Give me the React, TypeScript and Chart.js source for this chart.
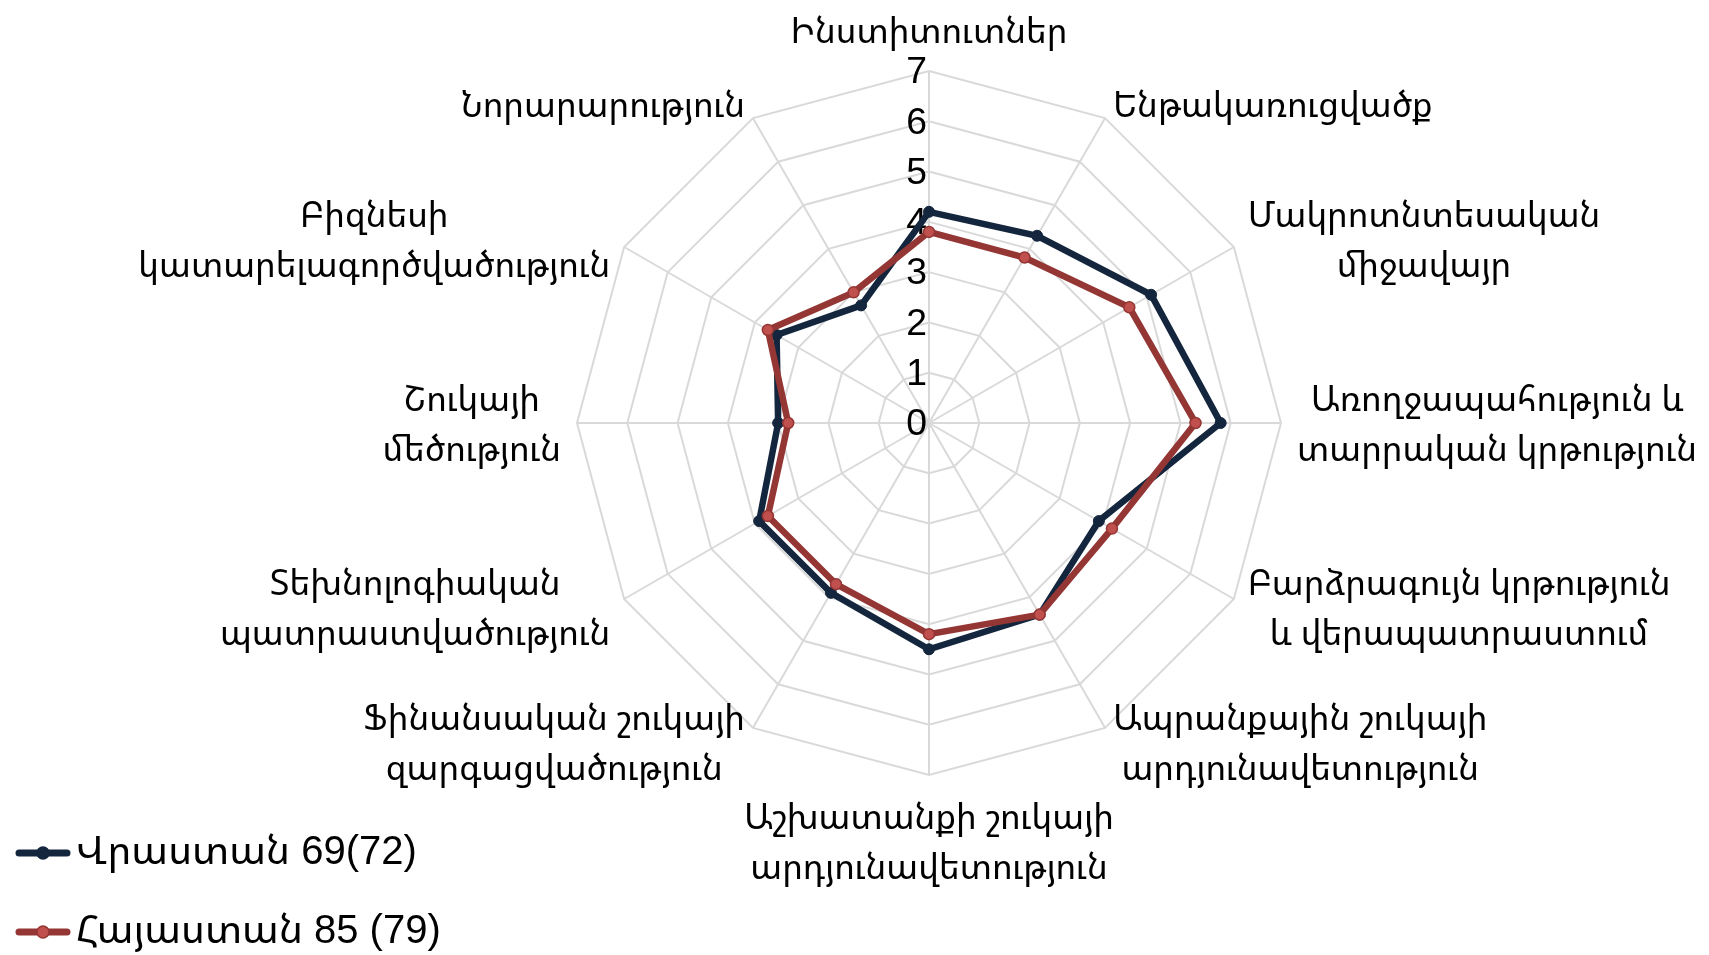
import React, { useEffect, useRef } from "react";
import { Chart, registerables } from "chart.js";

Chart.register(...registerables);

const categories: (string | string[])[] = [
  "Ինստիտուտներ",
  "Ենթակառուցվածք",
  ["Մակրոտնտեսական", "միջավայր"],
  ["Առողջապահություն և", "տարրական կրթություն"],
  ["Բարձրագույն կրթություն", "և վերապատրաստում"],
  ["Ապրանքային շուկայի", "արդյունավետություն"],
  ["Աշխատանքի շուկայի", "արդյունավետություն"],
  ["Ֆինանսական շուկայի", "զարգացվածություն"],
  ["Տեխնոլոգիական", "պատրաստվածություն"],
  ["Շուկայի", "մեծություն"],
  ["Բիզնեսի", "կատարելագործվածություն"],
  "Նորարարություն",
];

const georgiaLabel = "Վրաստան 69(72)";
const georgiaValues = [4.2, 4.3, 5.1, 5.8, 3.9, 4.4, 4.5, 3.9, 3.9, 3.0, 3.5, 2.7];

const armeniaLabel = "Հայաստան 85 (79)";
const armeniaValues = [3.8, 3.8, 4.6, 5.3, 4.2, 4.4, 4.2, 3.7, 3.7, 2.8, 3.7, 3.0];

const scaleMin = 0;
const scaleMax = 7;
const scaleStep = 1;

const FONT = '"Liberation Sans", "Noto Sans Armenian", sans-serif';
const ARM_FONT = '"Noto Sans Armenian", "Liberation Sans", sans-serif';
const NAVY = "#14263e";
const RED = "#943634";
const RED_LIGHT = "#c0504d";
const GRID = "#d9d9d9";

const LABEL_SIZE = 34.67;
const TICK_SIZE = 37.33;
const LEGEND_SIZE = 40;
const LABEL_LINE = 50;
const LABEL_GAP = 16;

function makeLegendMarker(line: string, dot: string, dotBorder: string): HTMLCanvasElement {
  const c = document.createElement("canvas");
  c.width = 65;
  c.height = 20;
  const g = c.getContext("2d")!;
  g.strokeStyle = line;
  g.lineWidth = 7;
  g.lineCap = "round";
  g.beginPath();
  g.moveTo(4, 10);
  g.lineTo(52, 10);
  g.stroke();
  g.beginPath();
  g.arc(28, 10, 6, 0, Math.PI * 2);
  g.fillStyle = dot;
  g.fill();
  g.lineWidth = 1.5;
  g.strokeStyle = dotBorder;
  g.stroke();
  return c;
}

const pointLabelPlugin = {
  id: "armPointLabels",
  afterDatasetsDraw(chart: any) {
    const scale = chart.scales.r;
    const ctx = chart.ctx;
    ctx.save();
    ctx.font = `${LABEL_SIZE}px ${ARM_FONT}`;
    ctx.fillStyle = "#000";
    ctx.textBaseline = "middle";
    ctx.textAlign = "center";
    (chart.data.labels as (string | string[])[]).forEach((lab, i) => {
      const lines = Array.isArray(lab) ? lab : [lab];
      const pos = scale.getPointPosition(i, scale.drawingArea + LABEL_GAP);
      const deg = Math.round((scale.getIndexAngle(i) * 180) / Math.PI) % 360;
      const bw = Math.max(...lines.map((l) => ctx.measureText(l).width));
      const bh = lines.length * LABEL_LINE;
      let cx: number;
      let top: number;
      if (deg === 0) {
        cx = pos.x;
        top = pos.y - bh;
      } else if (deg === 180) {
        cx = pos.x;
        top = pos.y;
      } else if (deg < 180) {
        cx = pos.x + bw / 2;
        top = pos.y - bh / 2;
      } else {
        cx = pos.x - bw / 2;
        top = pos.y - bh / 2;
      }
      lines.forEach((l, k) => ctx.fillText(l, cx, top + LABEL_LINE * (k + 0.5) + 3));
    });
    ctx.restore();
  },
};

const tickLabelPlugin = {
  id: "armTickLabels",
  beforeDatasetsDraw(chart: any) {
    const scale = chart.scales.r;
    const ctx = chart.ctx;
    ctx.save();
    ctx.font = `${TICK_SIZE}px ${FONT}`;
    ctx.fillStyle = "#000";
    ctx.textBaseline = "middle";
    ctx.textAlign = "right";
    scale.ticks.forEach((t: any) => {
      const d = scale.getDistanceFromCenterForValue(t.value);
      ctx.fillText(String(t.value), scale.xCenter - 2, scale.yCenter - d + 2);
    });
    ctx.restore();
  },
};

export default function App() {
  const ref = useRef<HTMLCanvasElement | null>(null);

  useEffect(() => {
    if (!ref.current) return;
    const markers = [
      makeLegendMarker(NAVY, NAVY, NAVY),
      makeLegendMarker(RED, RED_LIGHT, RED),
    ];
    const chart = new Chart(ref.current, {
      type: "radar",
      data: {
        labels: categories,
        datasets: [
          {
            label: georgiaLabel,
            data: georgiaValues,
            borderColor: NAVY,
            backgroundColor: "transparent",
            fill: false,
            borderWidth: 6.5,
            pointRadius: 5.5,
            pointBackgroundColor: NAVY,
            pointBorderColor: NAVY,
            pointBorderWidth: 1,
            order: 1,
          },
          {
            label: armeniaLabel,
            data: armeniaValues,
            borderColor: RED,
            backgroundColor: "transparent",
            fill: false,
            borderWidth: 6.5,
            pointRadius: 5.5,
            pointBackgroundColor: RED_LIGHT,
            pointBorderColor: RED,
            pointBorderWidth: 1.5,
            order: 0,
          },
        ],
      },
      options: {
        responsive: false,
        animation: false,
        layout: { padding: { left: 0, top: 0, right: 0, bottom: -36 } },
        plugins: {
          tooltip: { enabled: false },
          legend: {
            display: true,
            position: "left",
            align: "end",
            labels: {
              usePointStyle: true,
              pointStyleWidth: 17,
              padding: 39,
              color: "#000",
              font: { size: LEGEND_SIZE, family: FONT },
              generateLabels: (ch: any) =>
                ch.data.datasets.map((ds: any, i: number) => ({
                  text: ds.label,
                  pointStyle: markers[i],
                  fillStyle: ds.borderColor,
                  strokeStyle: ds.borderColor,
                  lineWidth: 0,
                  hidden: false,
                  datasetIndex: i,
                  fontColor: "#000",
                  textAlign: "left",
                })),
            },
          },
        },
        scales: {
          r: {
            min: scaleMin,
            max: scaleMax,
            ticks: { display: false, stepSize: scaleStep },
            grid: { color: GRID, lineWidth: 2 },
            angleLines: { color: GRID, lineWidth: 2 },
            pointLabels: { display: false },
            afterFit: (s: any) => {
              s.xCenter = 929;
              s.yCenter = 423;
              s.drawingArea = 352;
            },
          },
        },
      } as any,
      plugins: [tickLabelPlugin, pointLabelPlugin],
    });
    return () => chart.destroy();
  }, []);

  return (
    <div style={{ position: "fixed", left: 0, top: 0, width: 1709, height: 955, background: "#fff" }}>
      <canvas ref={ref} width={1709} height={955} style={{ display: "block" }} />
    </div>
  );
}
